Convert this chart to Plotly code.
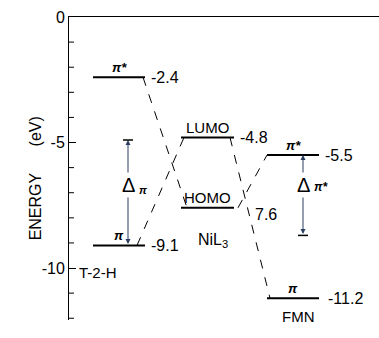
import plotly.graph_objects as go

# ---- data ----
molecules = ["T-2-H", "NiL<sub>3</sub>", "FMN"]
upper_names = ["π*", "LUMO", "π*"]
lower_names = ["π", "HOMO", "π"]
upper_energy = [-2.4, -4.8, -5.5]
lower_energy = [-9.1, -7.6, -11.2]
upper_labels = ["-2.4", "-4.8", "-5.5"]
lower_labels = ["-9.1", "7.6", "-11.2"]
gap_pi_top = -4.9      # top of the Δπ arrow
gap_pistar_bottom = -8.7  # bottom of the Δπ* arrow
ytick_vals = [0, -5, -10]
ytick_text = ["0", "-5", "-10"]
minor_vals = [-1, -2, -3, -4, -6, -7, -8, -9, -11, -12]

# ---- layout helpers (positions, not data) ----
col_x = [(24, 76), (112, 165), (198, 250)]
FONT = "Liberation Sans"

fig = go.Figure()

# energy levels
for (x0, x1), eu, el in zip(col_x, upper_energy, lower_energy):
    for e in (eu, el):
        fig.add_trace(go.Scatter(x=[x0, x1], y=[e, e], mode="lines",
                                 line=dict(color="black", width=2),
                                 hoverinfo="skip", showlegend=False))

# dashed correlation lines
conn = [
    ((col_x[0][1] - 2, upper_energy[0]), (col_x[1][0] + 6, lower_energy[1])),
    ((col_x[0][1] - 8, lower_energy[0]), (col_x[1][0] + 3, upper_energy[1])),
    ((col_x[1][1] - 4, upper_energy[1]), (col_x[2][0] + 3, lower_energy[2])),
    ((col_x[1][1] + 4, lower_energy[1]), (col_x[2][0], upper_energy[2])),
]
for (xa, ya), (xb, yb) in conn:
    fig.add_trace(go.Scatter(x=[xa, xb], y=[ya, yb], mode="lines",
                             line=dict(color="black", width=1, dash="dash"),
                             hoverinfo="skip", showlegend=False))

# minor ticks on the energy axis (short inward strokes)
for v in minor_vals:
    fig.add_trace(go.Scatter(x=[0, 5], y=[v, v], mode="lines",
                             line=dict(color="black", width=1),
                             hoverinfo="skip", showlegend=False, cliponaxis=False))

ann = []
# level names above lines
for (x0, x1), eu, el, nu, nl in zip(col_x, upper_energy, lower_energy, upper_names, lower_names):
    xc = (x0 + x1) / 2
    for e, n in ((eu, nu), (el, nl)):
        isgreek = n.startswith("π")
        ann.append(dict(x=xc, y=e, text=("<i><b>%s</b></i>" % n) if isgreek else n,
                        showarrow=False, yanchor="bottom", yshift=0,
                        font=dict(family=FONT, size=13 if isgreek else 15, color="black")))
# value labels
VS = 16
for (x0, x1), eu, el, lu, ll in zip(col_x, upper_energy, lower_energy, upper_labels, lower_labels):
    ann.append(dict(x=x1 + 4, y=eu, text=lu, showarrow=False, xanchor="left",
                    font=dict(family=FONT, size=VS, color="black")))
    if ll == "7.6":
        ann.append(dict(x=x1 + 19, y=el, text=ll, showarrow=False, xanchor="left",
                        yshift=-7, font=dict(family=FONT, size=VS, color="black")))
    else:
        ann.append(dict(x=x1 + 4 if x1 < 100 else x1 + 7, y=el, text=ll, showarrow=False,
                        xanchor="left", font=dict(family=FONT, size=VS, color="black")))

# molecule names
ann.append(dict(x=29, y=lower_energy[0], text=molecules[0], showarrow=False,
                xanchor="center", yshift=-27, font=dict(family=FONT, size=15, color="black")))
ann.append(dict(x=144, y=lower_energy[1], text=molecules[1], showarrow=False,
                xanchor="center", yshift=-33, font=dict(family=FONT, size=16, color="black")))
ann.append(dict(x=229, y=lower_energy[2], text=molecules[2], showarrow=False,
                xanchor="center", yshift=-18, font=dict(family=FONT, size=15, color="black")))

# gap arrows
xa1 = 59
ann.append(dict(x=xa1, y=gap_pi_top, ax=xa1, ay=lower_energy[0], xref="x", yref="y",
                axref="x", ayref="y", showarrow=True, arrowhead=2, arrowsize=1,
                arrowwidth=1, arrowside="end+start", text=""))
xa2 = 234
ann.append(dict(x=xa2, y=upper_energy[2], ax=xa2, ay=gap_pistar_bottom, xref="x", yref="y",
                axref="x", ayref="y", showarrow=True, arrowhead=2, arrowsize=1,
                arrowwidth=1, arrowside="end+start", text=""))
fig.add_trace(go.Scatter(x=[xa1 - 5, xa1 + 5], y=[gap_pi_top, gap_pi_top], mode="lines",
                         line=dict(color="black", width=1.5), hoverinfo="skip", showlegend=False))
fig.add_trace(go.Scatter(x=[xa2 - 5, xa2 + 5], y=[gap_pistar_bottom, gap_pistar_bottom], mode="lines",
                         line=dict(color="black", width=1.5), hoverinfo="skip", showlegend=False))

ymid1 = (gap_pi_top + lower_energy[0]) / 2 + 0.3
ann.append(dict(x=xa1, y=ymid1, text="Δ", showarrow=False, bgcolor="white",
                font=dict(family=FONT, size=20, color="black")))
ann.append(dict(x=xa1 + 9, y=ymid1, text="<i><b>π</b></i>", showarrow=False, xanchor="left",
                yshift=-5, font=dict(family=FONT, size=11, color="black")))
ymid2 = -6.7
ann.append(dict(x=xa2, y=ymid2, text="Δ", showarrow=False, bgcolor="white",
                font=dict(family=FONT, size=20, color="black")))
ann.append(dict(x=xa2 + 9, y=ymid2, text="<i><b>π*</b></i>", showarrow=False, xanchor="left",
                yshift=-2, font=dict(family=FONT, size=12, color="black")))

# y-axis title
ann.append(dict(x=-0.142, y=0.469, xref="paper", yref="paper", text="ENERGY      (eV)",
                textangle=-90, showarrow=False,
                font=dict(family=FONT, size=16, color="black")))

fig.update_layout(
    width=379, height=338,
    margin=dict(l=69, r=0, t=17, b=18),
    plot_bgcolor="white", paper_bgcolor="white",
    showlegend=False,
    annotations=ann,
    xaxis=dict(range=[0, 310], side="top", showline=True, linecolor="black", linewidth=1,
               showgrid=False, zeroline=False, showticklabels=False, ticks=""),
    yaxis=dict(range=[-12.07, 0], showline=True, linecolor="black", linewidth=1,
               showgrid=False, zeroline=False, tickvals=ytick_vals, ticktext=ytick_text,
               ticks="inside", ticklen=7, tickcolor="black",
               tickfont=dict(family=FONT, size=16, color="black")),
)

fig.write_html("out.html")
